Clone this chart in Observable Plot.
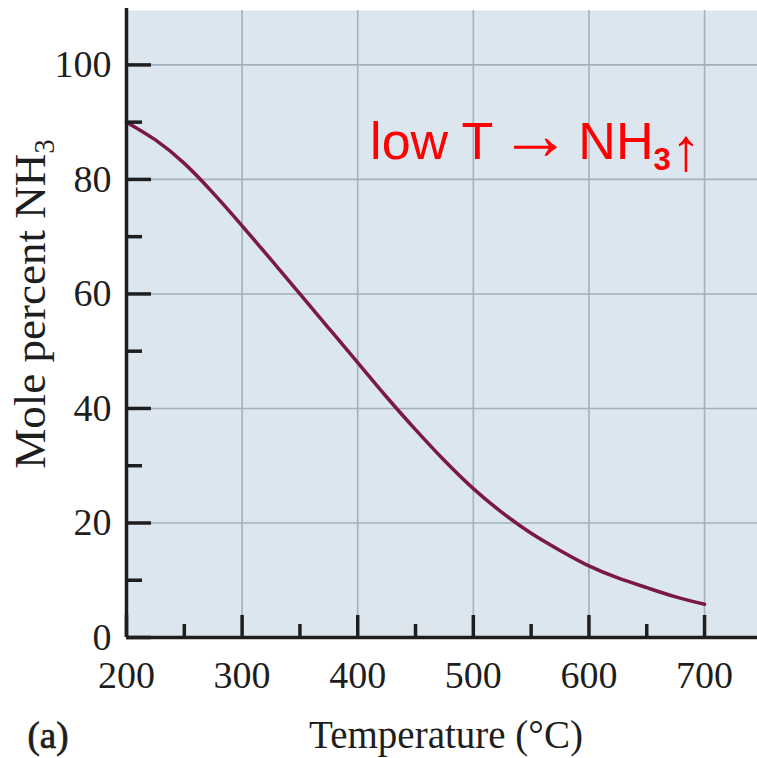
<!DOCTYPE html>
<html><head><meta charset="utf-8">
<script src="https://cdn.jsdelivr.net/npm/d3@7"></script>
<script src="https://cdn.jsdelivr.net/npm/@observablehq/plot@0.6"></script>
<style>body{margin:0;background:#fff;}</style>
</head><body><div id="chart"></div>
<script>
// ---- data ----
const temperature = [200,225,250,275,300,325,350,375,400,425,450,475,500,525,550,575,600,625,650,675,700];
const molePercent = [90,86.9,82.8,77.6,71.9,66.0,60.0,54.0,48.0,42.0,36.3,30.9,26.0,21.8,18.2,15.2,12.5,10.4,8.7,7.1,5.8];
const xMajorTicks = [200,300,400,500,600,700];
const xMinorTicks = [250,350,450,550,650];
const yMajorTicks = [0,20,40,60,80,100];
const yMinorTicks = [10,30,50,70,90];
const xGridLines = [300,400,500,600,700];
const yGridLines = [20,40,60,80,100];
const xAxisLabel = "Temperature (°C)";
const yAxisLabelBase = "Mole percent NH";
const yAxisLabelSub = "3";
const panelLabel = "(a)";
const noteBase = "low T ";
const noteArrow = "→";
const noteMid = " NH";
const noteSub = "3";
const noteTail = "↑";

const data = temperature.map((t, i) => ({t, v: molePercent[i]}));
const W = 757, H = 758, mL = 126, mT = 10, mR = 0, mB = 121;
const innerW = W - mL - mR, innerH = H - mT - mB;
const serif = "'Liberation Serif', 'Times New Roman', serif";
const sans = "'Liberation Sans', Arial, sans-serif";
const ink = "#1e1e1e";

const plot = Plot.plot({
  width: W, height: H,
  marginLeft: mL, marginTop: mT, marginRight: mR, marginBottom: mB,
  x: {domain: [200, 745.8]},
  y: {domain: [0, 109.5]},
  style: {background: "white", overflow: "visible"},
  marks: [
    Plot.frame({fill: "#dce6ee", stroke: null}),
    Plot.gridX(xGridLines, {stroke: "#a2b1bd", strokeOpacity: 1, strokeWidth: 1.6}),
    Plot.gridY(yGridLines, {stroke: "#a2b1bd", strokeOpacity: 1, strokeWidth: 1.6}),
    Plot.line(data, {x: "t", y: "v", stroke: "#7a1846", strokeWidth: 3.5, curve: "natural"}),
    Plot.tickX(xMajorTicks, {x: d => d, stroke: ink, strokeWidth: 3.5, insetTop: innerH - 22}),
    Plot.tickX(xMinorTicks, {x: d => d, stroke: ink, strokeWidth: 3.5, insetTop: innerH - 13}),
    Plot.tickY(yMajorTicks, {y: d => d, stroke: ink, strokeWidth: 3.5, insetRight: innerW - 25}),
    Plot.tickY(yMinorTicks, {y: d => d, stroke: ink, strokeWidth: 3.5, insetRight: innerW - 16}),
    Plot.ruleX([200], {stroke: ink, strokeWidth: 3.5, insetTop: -2}),
    Plot.ruleY([0], {stroke: ink, strokeWidth: 3.5}),
    Plot.axisX(xMajorTicks, {tickSize: 0, tickPadding: 24, fontSize: 38, fontFamily: serif, color: ink, label: null}),
    Plot.axisY(yMajorTicks, {tickSize: 0, tickPadding: 15, fontSize: 38, fontFamily: serif, color: ink, label: null}),
    Plot.text([xAxisLabel], {text: d => d, frameAnchor: "bottom", dx: 4, dy: 110, lineAnchor: "bottom",
      fontSize: 39, fontFamily: serif, fill: ink}),
    Plot.text([panelLabel], {text: d => d, frameAnchor: "bottom-left", dx: -99, dy: 110, textAnchor: "start",
      lineAnchor: "bottom", fontSize: 37, fontFamily: serif, fill: ink, stroke: ink, strokeWidth: 0.7}),
    Plot.text([yAxisLabelBase + yAxisLabelSub], {text: d => d, frameAnchor: "left", rotate: -90, dx: -82, dy: -20,
      lineAnchor: "bottom", textAnchor: "middle", fontSize: 45, fontFamily: serif, fill: ink}),
    Plot.text([noteBase + noteArrow + noteMid + noteSub + noteTail], {text: d => d, x: 410.7, y: 83.5, textAnchor: "start",
      lineAnchor: "bottom", fontSize: 52, fontFamily: sans, fill: "#ff0000"})
  ]
});

// rich text via tspans (subscripts, arrow glyphs)
const ns = "http://www.w3.org/2000/svg";
function rebuild(svg, parts) {
  const full = parts.map(p => p.text).join("");
  svg.querySelectorAll("text").forEach(t => {
    if (t.textContent === full) {
      t.textContent = "";
      for (const p of parts) {
        const s = document.createElementNS(ns, "tspan");
        s.textContent = p.text;
        for (const [k, v] of Object.entries(p.attrs || {})) s.setAttribute(k, v);
        t.appendChild(s);
      }
    }
  });
}
rebuild(plot, [
  {text: yAxisLabelBase},
  {text: yAxisLabelSub, attrs: {dy: 9, "font-size": 29}}
]);
rebuild(plot, [
  {text: noteBase},
  {text: noteArrow, attrs: {"font-size": 72, dx: -8}},
  {text: noteMid, attrs: {dx: -7}},
  {text: noteSub, attrs: {dy: 11, "font-size": 31, "font-weight": "bold"}},
  {text: noteTail, attrs: {"font-size": 60}}
]);

document.getElementById("chart").appendChild(plot);
</script>
</body></html>
